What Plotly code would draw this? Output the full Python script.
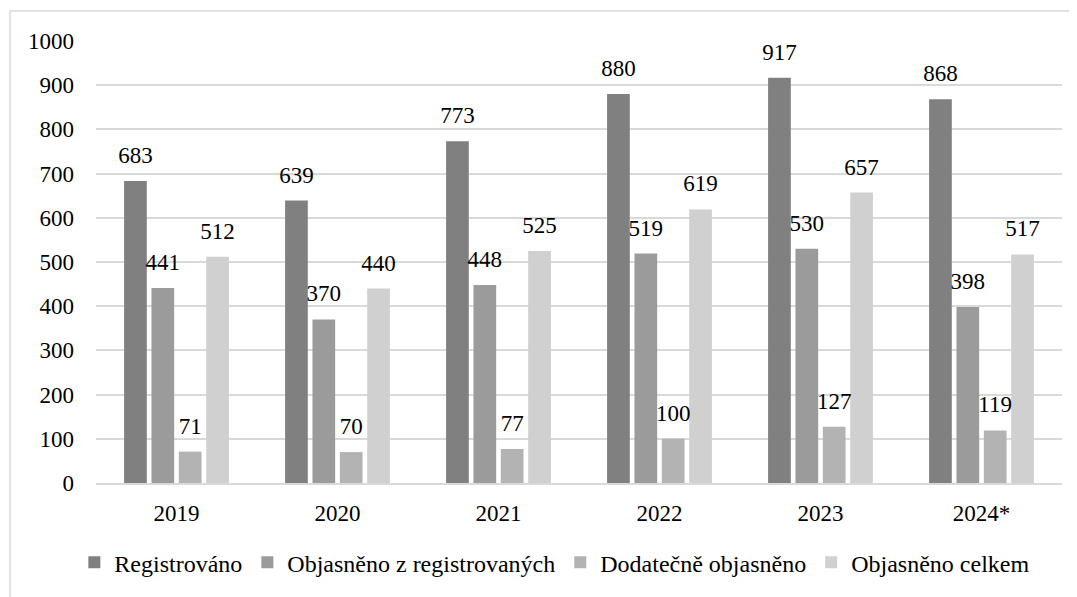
import plotly.graph_objects as go

# data
roky = ["2019", "2020", "2021", "2022", "2023", "2024*"]
registrovano = [683, 639, 773, 880, 917, 868]
objasneno_z_reg = [441, 370, 448, 519, 530, 398]
dodatecne = [71, 70, 77, 100, 127, 119]
objasneno_celkem = [512, 440, 525, 619, 657, 517]

serie = [
    ("Registrováno", registrovano, "#808080"),
    ("Objasněno z registrovaných", objasneno_z_reg, "#9b9b9b"),
    ("Dodatečně objasněno", dodatecne, "#b3b3b3"),
    ("Objasněno celkem", objasneno_celkem, "#d0d0d0"),
]

FONT = "Liberation Serif"
FS = 23

fig = go.Figure()
for i, (name, vals, color) in enumerate(serie):
    fig.add_trace(
        go.Bar(
            x=roky,
            y=vals,
            name=name,
            offsetgroup=str(i),
            marker=dict(color=color, line=dict(width=0)),
            hoverinfo="y",
        )
    )
    # popisky hodnot nad sloupci (trochu vys nez u textposition outside)
    fig.add_trace(
        go.Scatter(
            x=roky,
            y=vals,
            mode="markers+text",
            offsetgroup=str(i),
            marker=dict(size=18, color="rgba(0,0,0,0)"),
            text=[str(v) for v in vals],
            textposition="top center",
            textfont=dict(family=FONT, size=FS, color="#000000"),
            cliponaxis=False,
            showlegend=False,
            hoverinfo="skip",
        )
    )

# svetle sedy ramecek kolem grafu
fig.add_shape(
    type="rect", xref="paper", yref="paper",
    x0=-0.089, x1=1.0135, y0=-0.28, y1=1.0676,
    line=dict(color="#d9d9d9", width=1.5), fillcolor="rgba(0,0,0,0)",
    layer="below",
)

# stranka ma okraj 8 px, proto je obrazek o 8 px mensi
fig.update_layout(
    template="none",
    width=1069,
    height=589,
    margin=dict(l=88, r=15, t=33, b=112),
    plot_bgcolor="white",
    paper_bgcolor="white",
    barmode="group",
    scattermode="group",
    bargap=0.32,
    scattergap=0.32,
    bargroupgap=0.17,
    font=dict(family=FONT, size=FS, color="#000000"),
    legend=dict(
        orientation="h",
        x=0.475, xanchor="center",
        y=-0.18, yanchor="middle",
        font=dict(family=FONT, size=24, color="#000000"),
        itemwidth=30,
        tracegroupgap=0,
    ),
    showlegend=True,
)
fig.update_yaxes(
    range=[0, 1000],
    dtick=100,
    showgrid=True,
    gridcolor="#d9d9d9",
    gridwidth=1.5,
    zeroline=False,
    showline=False,
    ticks="",
    automargin=False,
    ticklabelstandoff=21,
    tickfont=dict(family=FONT, size=FS),
)
fig.update_xaxes(
    type="category",
    showgrid=False,
    showline=True,
    linecolor="#d9d9d9",
    linewidth=1.5,
    ticks="",
    automargin=False,
    ticklabelstandoff=9,
    tickfont=dict(family=FONT, size=FS),
)

fig.write_html("out.html")
